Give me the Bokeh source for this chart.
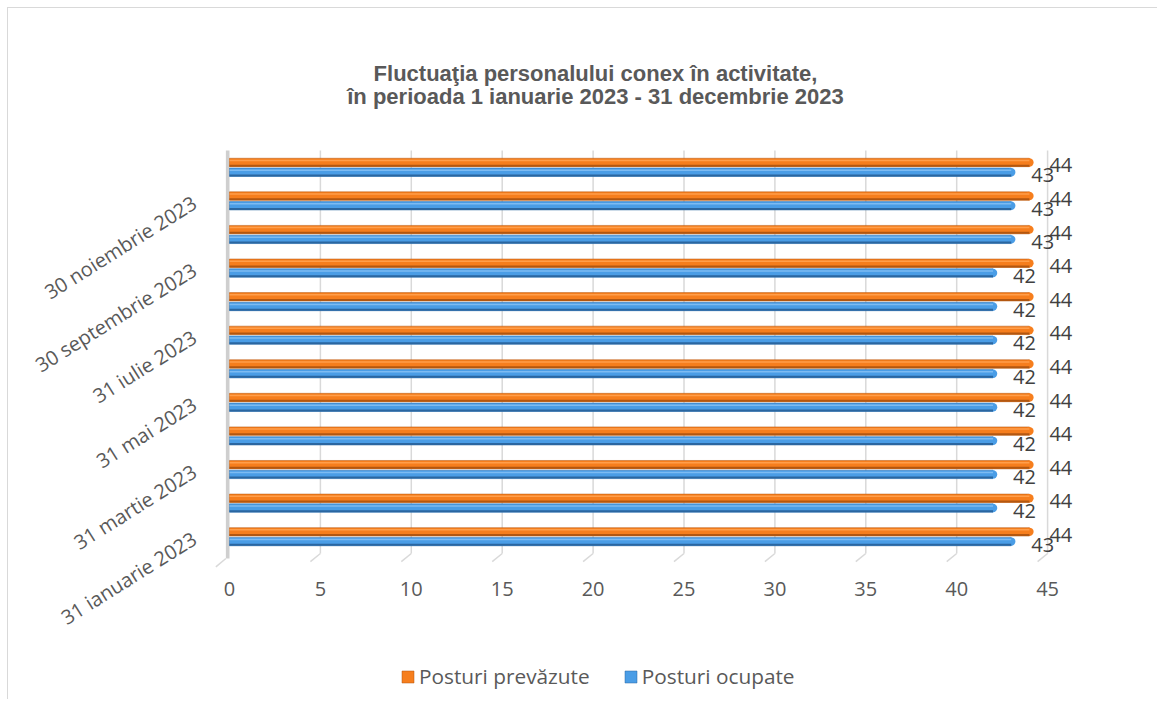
from bokeh.plotting import figure
from bokeh.models import ColumnDataSource, FixedTicker, Label, Legend, LegendItem
from bokeh.core.properties import value
from bokeh.embed import file_html
from bokeh.resources import INLINE

# ---- data ----
luni = ["31 ianuarie 2023", "28 februarie 2023", "31 martie 2023", "30 aprilie 2023",
        "31 mai 2023", "30 iunie 2023", "31 iulie 2023", "31 august 2023",
        "30 septembrie 2023", "31 octombrie 2023", "30 noiembrie 2023", "31 decembrie 2023"]
posturi_prevazute = [44, 44, 44, 44, 44, 44, 44, 44, 44, 44, 44, 44]
posturi_ocupate = [43, 42, 42, 42, 42, 42, 42, 42, 42, 43, 43, 43]
x_ticks = [0, 5, 10, 15, 20, 25, 30, 35, 40, 45]
label_every = [0, 2, 4, 6, 8, 10]

title1 = "Fluctuaţia personalului conex în activitate,"
title2 = "în perioada 1 ianuarie 2023 - 31 decembrie 2023"

FONT = "Open Sans"
TXT = "#595959"

W, HGT = 1150, 692
FRAME_L = 198         # canvas px of frame left
X0 = 221              # canvas px of x = 0
PX_X = 18.18          # px per unit (x)
Y_BOT = 545           # canvas px of y = -0.5
PX_Y = 33.58          # px per unit (y)

x_min = -(X0 - FRAME_L) / PX_X
x_max = (W - X0) / PX_X
y_top = -0.5 + Y_BOT / PX_Y
y_bot = -0.5 - (HGT - Y_BOT) / PX_Y
n = len(luni)
y_lo, y_hi = -0.5, n - 0.5

OFF = 0.145
H = 0.25
idx = list(range(n))
y_o = [i + OFF for i in idx]
y_b = [i - OFF for i in idx]

src_o = ColumnDataSource(dict(y=y_o, v=posturi_prevazute, lab=[str(v) for v in posturi_prevazute],
                              ye=[y - 0.095 for y in y_o], yh=[y + 0.06 for y in y_o], z=[0] * n))
src_b = ColumnDataSource(dict(y=y_b, v=posturi_ocupate, lab=[str(v) for v in posturi_ocupate],
                              ye=[y - 0.095 for y in y_b], yh=[y + 0.06 for y in y_b], z=[0] * n))

p = figure(width=W, height=HGT, x_range=(x_min, x_max), y_range=(y_bot, y_top),
           output_backend="svg", toolbar_location=None, x_axis_location=None,
           min_border_left=FRAME_L, min_border_right=0, min_border_top=0, min_border_bottom=0)
p.styles = {"margin-left": "7px", "margin-top": "7px",
            "border-left": "1px solid #d9d9d9", "border-top": "1px solid #d9d9d9"}
p.outline_line_color = None
p.background_fill_color = "white"
p.border_fill_color = "white"
p.xgrid.grid_line_color = None
p.ygrid.grid_line_color = None

# gridlines (back wall) and floor edges
gx = x_ticks[1:]
p.segment(x0=gx, y0=[y_lo] * len(gx), x1=gx, y1=[y_hi] * len(gx), line_color="#d9d9d9", line_width=1.5)
p.segment(x0=gx, y0=[y_lo] * len(gx), x1=[g - 0.55 for g in gx], y1=[y_lo - 0.24] * len(gx),
          line_color="#d9d9d9", line_width=1.5)
# left wall
p.quad(left=[-0.2], right=[0], bottom=[y_lo - 0.15], top=[y_hi], fill_color="#cfcfcf", line_color=None)
p.segment(x0=[-0.2], y0=[y_lo - 0.15], x1=[-0.75], y1=[y_lo - 0.4], line_color="#d9d9d9", line_width=1.5)

ORANGE, ORANGE_D, ORANGE_L = "#F67E1D", "#B35710", "#FF9E4A"
BLUE, BLUE_D, BLUE_L = "#4A9DE6", "#2A66A0", "#7DBBF2"

r_o = p.hbar(y="y", left="z", right="v", height=H, source=src_o, fill_color=ORANGE,
             line_color=ORANGE_D, line_width=0.5)
p.scatter(x="v", y="y", size=8.4, marker="circle", source=src_o, fill_color=ORANGE, line_color=None)
p.segment(x0="z", y0="ye", x1="v", y1="ye", source=src_o, line_color=ORANGE_D, line_width=2)
p.segment(x0="z", y0="yh", x1="v", y1="yh", source=src_o, line_color=ORANGE_L, line_width=1.5)

r_b = p.hbar(y="y", left="z", right="v", height=H, source=src_b, fill_color=BLUE,
             line_color=BLUE_D, line_width=0.5)
p.scatter(x="v", y="y", size=8.4, marker="circle", source=src_b, fill_color=BLUE, line_color=None)
p.segment(x0="z", y0="ye", x1="v", y1="ye", source=src_b, line_color=BLUE_D, line_width=2)
p.segment(x0="z", y0="yh", x1="v", y1="yh", source=src_b, line_color=BLUE_L, line_width=1.5)

# data labels
for src in (src_o, src_b):
    p.text(x="v", y="y", text="lab", source=src, x_offset=20, y_offset=3,
           text_align="left", text_baseline="middle", text_font=value(FONT),
           text_font_size="20px", text_color="#404040")

# x tick labels (value axis)
p.text(x=x_ticks, y=[y_lo] * len(x_ticks), text=[str(t) for t in x_ticks], y_offset=35,
       text_align="center", text_baseline="middle", text_font=value(FONT),
       text_font_size="20px", text_color=TXT)

# category axis
p.yaxis.ticker = FixedTicker(ticks=label_every)
p.yaxis.major_label_overrides = {i: luni[i] for i in label_every}
p.yaxis.major_label_orientation = 0.56
p.yaxis.axis_line_color = None
p.yaxis.major_tick_line_color = None
p.yaxis.minor_tick_line_color = None
p.yaxis.major_label_text_font = FONT
p.yaxis.major_label_text_font_size = "20px"
p.yaxis.major_label_text_color = TXT
p.yaxis.major_label_standoff = 6

# title
for txt, yy in ((title1, 627), (title2, 604)):
    p.add_layout(Label(x=389, y=yy, x_units="screen", y_units="screen", text=txt,
                       text_align="center", text_baseline="alphabetic",
                       text_font="Liberation Sans", text_font_style="bold",
                       text_font_size="22px", text_color=TXT))

# legend
leg = Legend(items=[LegendItem(label="Posturi prevăzute", renderers=[r_o]),
                    LegendItem(label="Posturi ocupate", renderers=[r_b])],
             orientation="horizontal", location=(194, 10))
leg.padding = 0
leg.margin = 0
leg.spacing = 33
leg.glyph_width = 15
leg.glyph_height = 15
leg.label_standoff = 4
leg.label_text_font = FONT
leg.label_text_font_size = "20.8px"
leg.label_text_color = TXT
leg.background_fill_alpha = 0
leg.border_line_color = None
p.add_layout(leg, "center")

open("out.html", "w").write(file_html(p, INLINE))
